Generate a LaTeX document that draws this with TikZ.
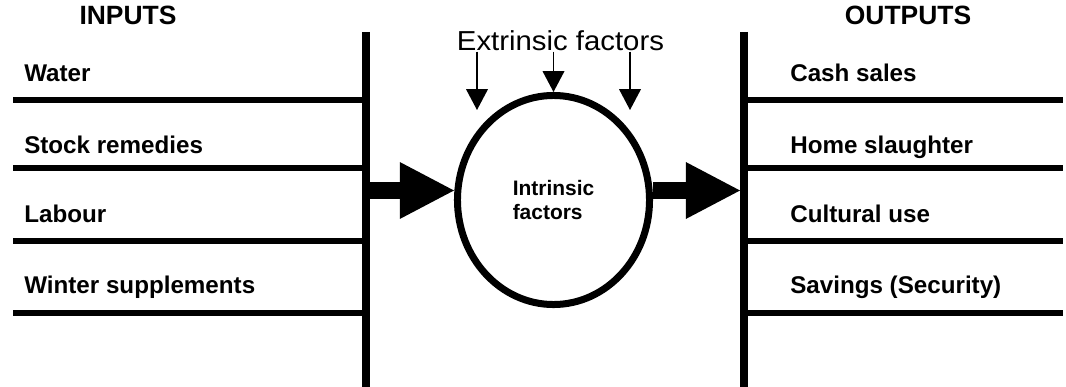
\documentclass[tikz,border=0pt]{standalone}
\usepackage{fontspec}
\setmainfont{Liberation Sans}
\newfontfamily\extfont{Liberation Sans}[FakeStretch=1.07]
\usetikzlibrary{arrows.meta,shapes.geometric,positioning}

\begin{document}
\begin{tikzpicture}[
    x=0.025cm, y=-0.025cm,
    item/.style={
		anchor=base west,
		inner sep=0pt,
		font=\bfseries\fontsize{17.2}{20}\selectfont
	},
    heading/.style={
		anchor=base,
		inner sep=0pt,
		font=\bfseries\fontsize{18.8}{22}\selectfont
	},
    bar/.style={line width=0.19cm},
    rule/.style={line width=0.13cm},
    flow/.style={
		line width=0.425cm,
		-{Triangle[length=1.35cm, width=1.42cm, line width=0pt]}
	},
    extarrow/.style={
		line width=0.04cm,
		-{Triangle[length=0.52cm, width=0.55cm, line width=0pt]}
	},
    factor/.style={
		ellipse,
		draw=black,
		line width=0.175cm,
		minimum width=4.8cm,
		minimum height=5.225cm,
		align=left,
		font=\bfseries\fontsize{14.9}{17}\selectfont
	}
  ]
  \useasboundingbox (0,0) rectangle (1066,387);

  % the two bars and their rules
  \draw [bar] (366,32) -- (366,392);
  \draw [bar] (744,32) -- (744,392);

  \draw [rule] (13,100) -- (366,100);
  \draw [rule] (13,168) -- (366,168);
  \draw [rule] (13,241) -- (366,241);
  \draw [rule] (13,313) -- (366,313);

  \draw [rule] (744,100) -- (1063,100);
  \draw [rule] (744,168) -- (1063,168);
  \draw [rule] (744,241) -- (1063,241);
  \draw [rule] (744,313) -- (1063,313);

  % headings and items
  \node [heading] (inputs) at (128,24.3) {INPUTS};
  \node [heading] (outputs) at (908,24.3) {OUTPUTS};

  \node [item] (water) at (24,81) {Water};
  \node [item] (remedies) at (24,153) {Stock remedies};
  \node [item] (labour) at (24,222) {Labour};
  \node [item] (winter) at (24,293) {Winter supplements};

  \node [item] (cash) at (790,82) {Cash sales};
  \node [item] (slaughter) at (790,153) {Home slaughter};
  \node [item] (cultural) at (790,222) {Cultural use};
  \node [item] (savings) at (790,293) {Savings (Security)};

  % the herd in the middle
  \node [factor] (intr) at (553.5,200) {Intrinsic\\factors};

  \node [anchor=base, inner sep=0pt, font=\extfont\fontsize{19.5}{22}\selectfont]
    (ext) at (560.5,51) {Extrinsic factors};

  \coordinate (inbar) at (370,190.5);
  \coordinate (outbar) at (740,190.5);
  \coordinate (extL) at (477,110);
  \coordinate (extR) at (630,110);

  \draw [flow] (inbar) -- (intr.west |- inbar);
  \draw [flow] (intr.east |- outbar) -- (outbar);

  \draw [extarrow] (ext.south -| extL) -- (extL);
  \draw [extarrow] (ext.south -| intr.north) -- (intr.north);
  \draw [extarrow] (ext.south -| extR) -- (extR);

\end{tikzpicture}
\end{document}
